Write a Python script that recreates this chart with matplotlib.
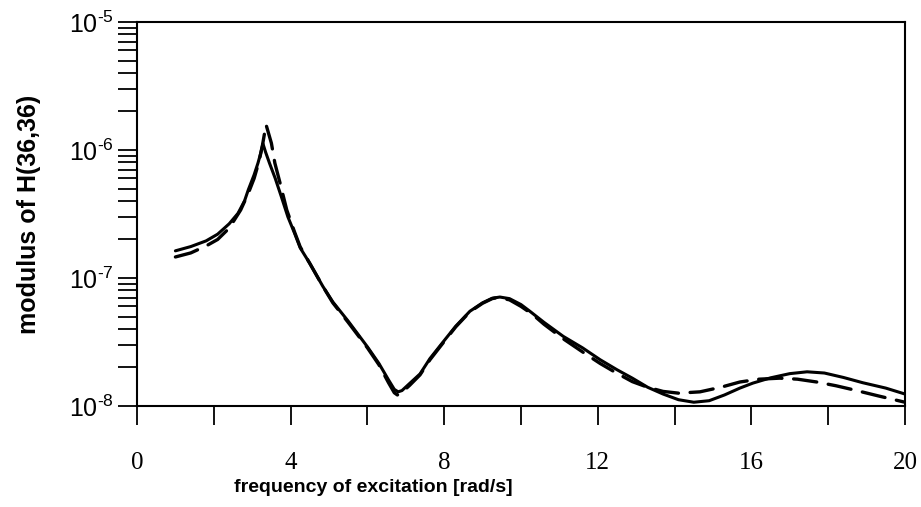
import numpy as np
import matplotlib
matplotlib.use("Agg")
import matplotlib.pyplot as plt
from matplotlib.ticker import FixedLocator, LogLocator, NullFormatter, FixedFormatter

# ---- data ----
x_solid = [1.0, 1.4, 1.8, 2.1, 2.4, 2.63, 2.8, 2.9, 3.05, 3.15, 3.22, 3.28, 3.35, 3.45,
           3.6, 3.75, 3.93, 4.1, 4.25, 4.5, 4.84, 5.1, 5.5, 6.0, 6.3, 6.55, 6.7, 6.8,
           6.9, 7.1, 7.37, 7.63, 8.02, 8.3, 8.67, 9.0, 9.25, 9.45, 9.7, 10.0, 10.23,
           10.6, 11.1, 11.6, 12.06, 12.5, 12.9, 13.3, 13.7, 14.1, 14.5, 14.9, 15.3,
           15.7, 16.04, 16.5, 17.0, 17.45, 17.9, 18.4, 18.9, 19.5, 20.0]
y_solid = [1.63e-7, 1.76e-7, 1.95e-7, 2.2e-7, 2.65e-7, 3.2e-7, 4.0e-7, 4.9e-7, 6.4e-7,
           7.9e-7, 9.4e-7, 1.12e-6, 9.6e-7, 7.9e-7, 6.0e-7, 4.4e-7, 3.0e-7, 2.25e-7,
           1.72e-7, 1.3e-7, 8.6e-8, 6.5e-8, 4.6e-8, 2.9e-8, 2.15e-8, 1.6e-8, 1.35e-8,
           1.29e-8, 1.32e-8, 1.5e-8, 1.78e-8, 2.35e-8, 3.3e-8, 4.2e-8, 5.5e-8, 6.4e-8,
           6.95e-8, 7.1e-8, 6.9e-8, 6.2e-8, 5.5e-8, 4.5e-8, 3.5e-8, 2.85e-8, 2.3e-8,
           1.92e-8, 1.65e-8, 1.4e-8, 1.24e-8, 1.12e-8, 1.07e-8, 1.1e-8, 1.22e-8,
           1.38e-8, 1.51e-8, 1.66e-8, 1.79e-8, 1.85e-8, 1.81e-8, 1.67e-8, 1.52e-8,
           1.38e-8, 1.24e-8]

x_dash = [1.0, 1.4, 1.8, 2.1, 2.4, 2.7, 2.9, 3.05, 3.18, 3.27, 3.36, 3.5, 3.59, 3.72,
          3.9, 4.1, 4.25, 4.5, 4.84, 5.1, 5.5, 6.0, 6.3, 6.55, 6.7, 6.78, 6.9, 7.1,
          7.37, 7.63, 8.02, 8.3, 8.67, 9.0, 9.25, 9.4, 9.7, 10.0, 10.3, 10.6, 11.1,
          11.6, 12.06, 12.5, 12.9, 13.3, 13.7, 14.1, 14.66, 15.2, 15.7, 16.2, 16.74,
          17.2, 17.7, 18.2, 18.65, 19.3, 20.0]
y_dash = [1.46e-7, 1.57e-7, 1.78e-7, 2.0e-7, 2.45e-7, 3.4e-7, 4.6e-7, 6.0e-7, 8.2e-7,
          1.1e-6, 1.58e-6, 1.13e-6, 7.9e-7, 5.6e-7, 3.4e-7, 2.3e-7, 1.75e-7, 1.3e-7,
          8.6e-8, 6.4e-8, 4.5e-8, 2.85e-8, 2.1e-8, 1.52e-8, 1.27e-8, 1.22e-8, 1.28e-8,
          1.45e-8, 1.75e-8, 2.3e-8, 3.25e-8, 4.15e-8, 5.45e-8, 6.35e-8, 6.9e-8, 7.05e-8,
          6.75e-8, 6.0e-8, 5.2e-8, 4.35e-8, 3.35e-8, 2.65e-8, 2.15e-8, 1.8e-8, 1.55e-8,
          1.4e-8, 1.3e-8, 1.26e-8, 1.29e-8, 1.4e-8, 1.54e-8, 1.62e-8, 1.65e-8, 1.62e-8,
          1.54e-8, 1.44e-8, 1.34e-8, 1.2e-8, 1.07e-8]

x_major = [0, 4, 8, 12, 16, 20]
x_major_labels = ["0", "4", "8", "12", "16", "20"]
x_minor = [2, 6, 10, 14, 18]
y_major = [1e-8, 1e-7, 1e-6, 1e-5]
y_major_labels = [r"$\mathregular{10^{\text{-}8}}$", r"$\mathregular{10^{\text{-}7}}$",
                  r"$\mathregular{10^{\text{-}6}}$", r"$\mathregular{10^{\text{-}5}}$"]

plt.rcParams["mathtext.fontset"] = "custom"
plt.rcParams["mathtext.rm"] = "Liberation Sans"
plt.rcParams["font.family"] = ["Liberation Sans", "DejaVu Sans"]

fig = plt.figure(figsize=(9.21, 5.07), dpi=100)
ax = fig.add_axes([137 / 921, 101 / 507, 768 / 921, 384 / 507])

ax.plot(x_solid, y_solid, color="black", lw=2.2, solid_capstyle="round", solid_joinstyle="round")
ax.plot(x_dash, y_dash, color="black", lw=2.4, dashes=(7, 3.5), dash_capstyle="round",
        dash_joinstyle="round")

ax.set_yscale("log")
ax.set_xlim(0, 20)
ax.set_ylim(1e-8, 1e-5)

for s in ax.spines.values():
    s.set_linewidth(1.5)

ax.xaxis.set_major_locator(FixedLocator(x_major))
ax.xaxis.set_major_formatter(FixedFormatter(x_major_labels))
ax.xaxis.set_minor_locator(FixedLocator(x_minor))
ax.xaxis.set_minor_formatter(NullFormatter())

ax.yaxis.set_major_locator(FixedLocator(y_major))
ax.yaxis.set_major_formatter(FixedFormatter(y_major_labels))
ax.yaxis.set_minor_locator(LogLocator(base=10, subs=np.arange(2, 10)))
ax.yaxis.set_minor_formatter(NullFormatter())

ax.tick_params(axis="both", which="both", direction="out", length=14, width=1.3,
               top=False, right=False)
ax.tick_params(axis="x", which="major", pad=19, labelsize=18)
ax.tick_params(axis="y", which="major", pad=3, labelsize=18)
for lab in ax.get_xticklabels():
    lab.set_fontfamily(["Liberation Serif", "DejaVu Serif"])

ax.set_ylabel("modulus of H(36,36)", fontsize=18, fontweight="bold", labelpad=20)
fig.text(373 / 921, 1 - 487 / 507, "frequency of excitation [rad/s]",
         ha="center", va="center", fontsize=14, fontweight="bold")

fig.savefig("out.png", dpi=100)
